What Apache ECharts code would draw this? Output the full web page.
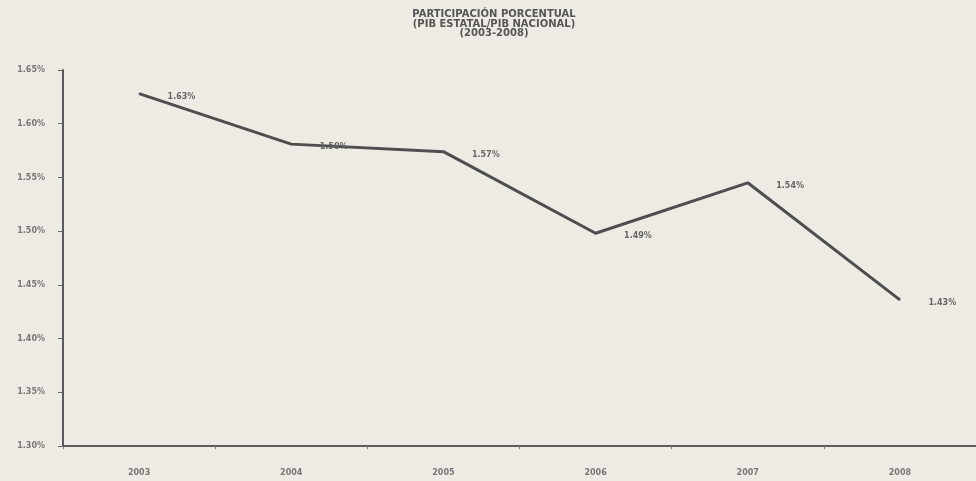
<!DOCTYPE html>
<html>
<head>
<meta charset="utf-8">
<script src="https://cdn.jsdelivr.net/npm/echarts@6/dist/echarts.min.js"></script>
<style>
  html, body { margin: 0; padding: 0; background: #edebe4; }
  #main { width: 976px; height: 481px; }
</style>
</head>
<body>
<div id="main"></div>
<script>
// data
var years = ['2003', '2004', '2005', '2006', '2007', '2008'];
var share = [1.628, 1.581, 1.574, 1.498, 1.545, 1.436];
var pointLabels = ['1.63%', '1.58%', '1.57%', '1.49%', '1.54%', '1.43%'];
var yTicks = [1.30, 1.35, 1.40, 1.45, 1.50, 1.55, 1.60, 1.65];

var chart = echarts.init(document.getElementById('main'));
chart.setOption({
  backgroundColor: '#edebe4',
  animation: false,
  title: {
    text: 'PARTICIPACIÓN PORCENTUAL\n(PIB ESTATAL/PIB NACIONAL)\n(2003-2008)',
    left: 489,
    textAlign: 'center',
    top: 5,
    textStyle: {
      fontFamily: 'DejaVu Sans',
      fontWeight: 'bold',
      fontSize: 10,
      lineHeight: 9.5,
      color: '#555'
    }
  },
  grid: { left: 63, right: 0, top: 70, bottom: 35 },
  xAxis: {
    type: 'category',
    data: years,
    boundaryGap: true,
    axisLine: { lineStyle: { color: '#5a5a5a', width: 2 } },
    axisTick: { show: true, length: 3, inside: false, lineStyle: { color: '#777' } },
    axisLabel: { margin: 23, fontSize: 8, color: '#777', fontFamily: 'DejaVu Sans', fontWeight: 'bold' }
  },
  yAxis: {
    type: 'value',
    min: yTicks[0],
    max: yTicks[yTicks.length - 1],
    interval: 0.05,
    axisLine: { show: true, lineStyle: { color: '#5a5a5a', width: 2 } },
    axisTick: { show: true, length: 5, lineStyle: { color: '#666' } },
    splitLine: { show: false },
    axisLabel: {
      margin: 18,
      fontSize: 8,
      color: '#777',
      fontFamily: 'DejaVu Sans',
      fontWeight: 'bold',
      formatter: function (v) { return v.toFixed(2) + '%'; }
    }
  },
  series: [{
    type: 'line',
    data: share,
    symbol: 'circle',
    symbolSize: 1,
    showSymbol: true,
    itemStyle: { color: '#4e4e4e' },
    lineStyle: { color: '#4e4e4e', width: 3 },
    label: {
      show: true,
      position: 'right',
      distance: 28,
      offset: [0, 3],
      fontSize: 8,
      color: '#666',
      fontFamily: 'DejaVu Sans',
      fontWeight: 'bold',
      formatter: function (p) { return pointLabels[p.dataIndex]; }
    }
  }]
});
</script>
</body>
</html>
